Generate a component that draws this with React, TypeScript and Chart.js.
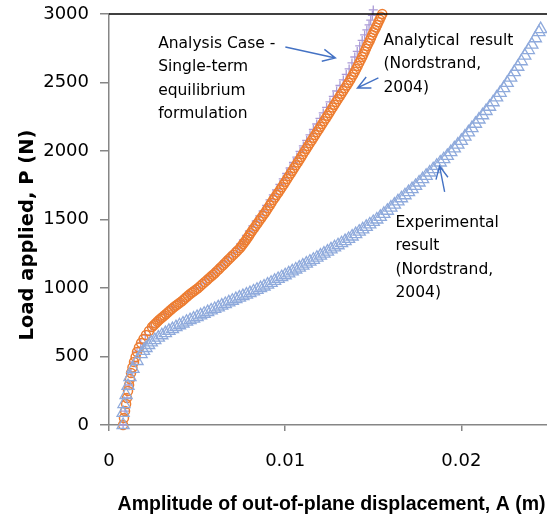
import { useEffect, useRef } from 'react';
import { Chart, registerables } from 'chart.js';

Chart.register(...registerables);

// ---------- data ----------
const X_MIN = 0;
const X_MAX = 0.0249;
const Y_MIN = 0;
const Y_MAX = 3000;
const X_TICKS = [0, 0.01, 0.02];
const X_TICK_LABELS = ['0', '0.01', '0.02'];
const Y_TICKS = [0, 500, 1000, 1500, 2000, 2500, 3000];
const Y_TICK_LABELS = ['0', '500', '1000', '1500', '2000', '2500', '3000'];

const X_TITLE = 'Amplitude of out-of-plane displacement, A (m)';
const Y_TITLE = 'Load applied, P (N)';

// Analysis Case - Single-term equilibrium formulation (purple crosses)
const ANALYSIS_A = [0.00080, 0.00091, 0.00102, 0.00114, 0.00125, 0.00142, 0.00159, 0.00180, 0.00206, 0.00239, 0.00278, 0.00317, 0.00362, 0.00407, 0.00451,
  0.00496, 0.00521, 0.00546, 0.00568, 0.00590, 0.006125, 0.00635, 0.00657, 0.00679, 0.007045, 0.00730, 0.007465, 0.00763, 0.0078, 0.00797, 0.008165,
  0.00836, 0.008555, 0.00875, 0.008945, 0.00914, 0.009325, 0.00951, 0.0097, 0.00989, 0.010085, 0.01028, 0.01047, 0.01066, 0.010845, 0.01103, 0.01122,
  0.01141, 0.0116, 0.01179, 0.011975, 0.01216, 0.01235, 0.01254, 0.01273, 0.01292, 0.01311, 0.01330, 0.013465, 0.01363, 0.01379, 0.01395, 0.01409,
  0.01423, 0.01437, 0.01451, 0.014635, 0.01476, 0.014855, 0.01495, 0.01500];
const ANALYSIS_P = [0, 102, 197, 292, 380, 460, 533, 599, 657, 715, 767, 810, 861, 905, 956,
  1000, 1030, 1059, 1085, 1110, 1139, 1168, 1197, 1226, 1259, 1292, 1322, 1351, 1384, 1416, 1453,
  1489, 1526, 1562, 1603, 1643, 1680, 1716, 1756, 1796, 1836, 1876, 1916, 1956, 1997, 2037, 2077,
  2117, 2157, 2197, 2238, 2278, 2318, 2358, 2398, 2438, 2478, 2519, 2559, 2599, 2643, 2686, 2727,
  2767, 2807, 2847, 2884, 2920, 2955, 2990, 3030];

// Analytical result (Nordstrand, 2004) (orange circles)
const ANALYTICAL_A = [0.00080, 0.00085, 0.00091, 0.00097, 0.00102, 0.00108, 0.00114, 0.00119, 0.00125, 0.00133, 0.00142, 0.00151, 0.00159, 0.00170, 0.00182,
  0.00196, 0.00210, 0.00227, 0.00244, 0.00254, 0.00264, 0.00274, 0.00284, 0.00294, 0.00304, 0.00314, 0.00324, 0.00335, 0.00346, 0.003575, 0.00369,
  0.003805, 0.00392, 0.004035, 0.00415, 0.00426, 0.00437, 0.004485, 0.00460, 0.004715, 0.00483, 0.004945, 0.00506, 0.005185, 0.00531, 0.00544, 0.00557,
  0.00568, 0.00579, 0.005905, 0.00602, 0.006135, 0.00625, 0.006365, 0.00648, 0.00659, 0.00670, 0.006815, 0.00693, 0.00706, 0.00719, 0.007315,
  0.00744, 0.007525, 0.00761, 0.007695, 0.00778, 0.007865, 0.00795, 0.008035, 0.00812, 0.00822, 0.00832, 0.00842, 0.00852, 0.00862, 0.00872, 0.00882,
  0.00892, 0.00902, 0.00912, 0.00922, 0.00932, 0.009415, 0.00951, 0.00961, 0.00971, 0.00981, 0.00991, 0.01001, 0.01011, 0.01021, 0.01031, 0.01041,
  0.01051, 0.01061, 0.01071, 0.01081, 0.01091, 0.011005, 0.01110, 0.0112, 0.01130, 0.0114, 0.01150, 0.0116, 0.01170, 0.0118, 0.01190, 0.012,
  0.01210, 0.0122, 0.01230, 0.0124, 0.01250, 0.012595, 0.01269, 0.01279, 0.01289, 0.01299, 0.01309, 0.01319, 0.01329, 0.01339, 0.01349, 0.01359,
  0.01369, 0.013775, 0.01386, 0.013945, 0.01403, 0.014115, 0.01420, 0.014285, 0.01437, 0.01444, 0.01451, 0.01458, 0.01465, 0.014725, 0.01480, 0.01487,
  0.01494, 0.01501, 0.01508, 0.01515, 0.01522, 0.01529, 0.01536, 0.015435, 0.01551];
const ANALYTICAL_P = [0, 51, 102, 153, 197, 248, 292, 336, 380, 420, 460, 496, 533, 566, 599,
  628, 657, 686, 715, 728, 741, 754, 767, 778, 788, 799, 810, 823, 836, 849, 861,
  872, 883, 894, 905, 918, 931, 944, 956, 967, 978, 989, 1000, 1015, 1029, 1044, 1059,
  1072, 1084, 1097, 1110, 1125, 1139, 1154, 1168, 1183, 1197, 1212, 1226, 1243, 1259, 1276,
  1292, 1306, 1321, 1336, 1351, 1367, 1383, 1400, 1416, 1434, 1453, 1471, 1489, 1507, 1526, 1544,
  1562, 1582, 1602, 1622, 1643, 1661, 1679, 1697, 1716, 1736, 1756, 1776, 1796, 1816, 1836, 1856,
  1876, 1896, 1916, 1936, 1956, 1976, 1997, 2017, 2037, 2057, 2077, 2097, 2117, 2137, 2157, 2177,
  2197, 2217, 2237, 2257, 2278, 2298, 2318, 2338, 2358, 2378, 2398, 2418, 2438, 2458, 2478, 2498,
  2519, 2539, 2559, 2579, 2599, 2621, 2643, 2665, 2686, 2706, 2727, 2747, 2767, 2787, 2807, 2827,
  2847, 2866, 2884, 2902, 2920, 2940, 2960, 2980, 3000];

// Experimental result (Nordstrand, 2004) (blue triangles)
const EXPERIMENTAL_A = [0.00080, 0.00080, 0.00085, 0.00097, 0.00108, 0.00119, 0.00136, 0.00159, 0.00182, 0.00196, 0.00210, 0.00225, 0.00240,
  0.0026, 0.0028, 0.0030, 0.0032, 0.0034, 0.0036, 0.0038, 0.0040, 0.0042, 0.0044, 0.0046, 0.0048, 0.0050, 0.0052, 0.0054, 0.0056, 0.0058, 0.0060,
  0.0062, 0.0064, 0.0066, 0.0068, 0.0070, 0.0072, 0.0074, 0.0076, 0.0078, 0.0080, 0.0082, 0.0084, 0.0086, 0.0088, 0.0090, 0.0092, 0.0094, 0.0096,
  0.0098, 0.0100, 0.0102, 0.0104, 0.0106, 0.0108, 0.0110, 0.0112, 0.0114, 0.0116, 0.0118, 0.0120, 0.0122, 0.0124, 0.0126, 0.0128, 0.0130, 0.0132,
  0.0134, 0.0136, 0.0138, 0.0140, 0.0142, 0.0144, 0.0146, 0.0148, 0.0150, 0.0152, 0.0154, 0.0156, 0.0158, 0.0160, 0.0162, 0.0164, 0.0166, 0.0168,
  0.0170, 0.0172, 0.0174, 0.0176, 0.0178, 0.0180, 0.0182, 0.0184, 0.0186, 0.0188, 0.0190, 0.0192, 0.0194, 0.0196, 0.0198, 0.0200, 0.0202, 0.0204,
  0.0206, 0.0208, 0.0210, 0.0212, 0.0214, 0.0216, 0.0218, 0.0220, 0.0222, 0.0224, 0.0226, 0.0228, 0.0230, 0.0232, 0.0234, 0.0236, 0.0238, 0.0240,
  0.0242, 0.0244, 0.0245];
const EXPERIMENTAL_P = [0, 88, 153, 219, 285, 350, 409, 467, 518, 541, 562, 584, 603,
  620, 638, 655, 671, 687, 700, 714, 728, 741, 754, 765, 777, 788, 800, 812, 824, 836, 847,
  859, 871, 883, 895, 907, 919, 930, 941, 952, 963, 975, 987, 999, 1011, 1025, 1038, 1052, 1066,
  1079, 1093, 1107, 1121, 1135, 1149, 1163, 1178, 1192, 1206, 1221, 1236, 1251, 1266, 1282, 1297, 1312, 1327,
  1342, 1358, 1376, 1393, 1411, 1428, 1446, 1464, 1482, 1500, 1519, 1541, 1564, 1587, 1609, 1632, 1655, 1677,
  1700, 1722, 1745, 1770, 1795, 1819, 1843, 1867, 1892, 1916, 1940, 1964, 1992, 2019, 2047, 2074, 2105, 2136,
  2167, 2199, 2230, 2261, 2292, 2323, 2356, 2391, 2425, 2459, 2497, 2536, 2576, 2615, 2655, 2696, 2737, 2777,
  2823, 2867, 2890];

// annotation labels (anchored in data coordinates: A, P of first baseline)
const NOTE_ANALYSIS = ['Analysis Case -', 'Single-term', 'equilibrium', 'formulation'];
const NOTE_ANALYTICAL = ['Analytical  result', '(Nordstrand,', '2004)'];
const NOTE_EXPERIMENTAL = ['Experimental', 'result', '(Nordstrand,', '2004)'];
const NOTE_ANCHORS = [
  { lines: NOTE_ANALYSIS, a: 0.00279, p: 2752 },
  { lines: NOTE_ANALYTICAL, a: 0.01558, p: 2774 },
  { lines: NOTE_EXPERIMENTAL, a: 0.01626, p: 1445 },
];
// arrows: tail (a1,p1) -> tip (a2,p2)
const ARROWS = [
  { a1: 0.01001, p1: 2759, a2: 0.01285, p2: 2679 },
  { a1: 0.01529, p1: 2533, a2: 0.01410, p2: 2460 },
  { a1: 0.01905, p1: 1701, a2: 0.01876, p2: 1890 },
];

// ---------- styles ----------
const BLUE = '#8FAADC';
const ORANGE = '#ED7D31';
const PURPLE = '#AA9AD6';
const AXIS = '#868686';
const ARROW = '#4472C4';
const TICK_FONT = 'DejaVu Sans';
const NOTE_FONT = '15.5px "DejaVu Sans"';
const CANVAS_W = 556;
const CANVAS_H = 516;

const toPoints = (xs: number[], ys: number[]) =>
  xs.slice(0, Math.min(xs.length, ys.length)).map((x, i) => ({ x, y: ys[i] }));

const overlay = {
  id: 'overlay',
  afterDraw(chart: any) {
    const { ctx, chartArea, scales } = chart;
    const xs = scales.x;
    const ys = scales.y;
    ctx.save();
    // top border
    ctx.strokeStyle = '#000';
    ctx.lineWidth = 1.5;
    ctx.beginPath();
    ctx.moveTo(chartArea.left, chartArea.top);
    ctx.lineTo(chartArea.right, chartArea.top);
    ctx.stroke();

    // notes
    ctx.fillStyle = '#000';
    ctx.font = NOTE_FONT;
    ctx.textAlign = 'left';
    ctx.textBaseline = 'alphabetic';
    NOTE_ANCHORS.forEach((n) => {
      const x = xs.getPixelForValue(n.a);
      const y = ys.getPixelForValue(n.p);
      n.lines.forEach((line, i) => ctx.fillText(line, x, y + i * 23.3));
    });

    // arrows
    ctx.strokeStyle = ARROW;
    ctx.lineWidth = 1.4;
    ARROWS.forEach((ar) => {
      const x1 = xs.getPixelForValue(ar.a1);
      const y1 = ys.getPixelForValue(ar.p1);
      const x2 = xs.getPixelForValue(ar.a2);
      const y2 = ys.getPixelForValue(ar.p2);
      const ang = Math.atan2(y2 - y1, x2 - x1);
      const head = 14;
      const spread = 0.45;
      ctx.beginPath();
      ctx.moveTo(x1, y1);
      ctx.lineTo(x2, y2);
      ctx.moveTo(x2 - head * Math.cos(ang - spread), y2 - head * Math.sin(ang - spread));
      ctx.lineTo(x2, y2);
      ctx.lineTo(x2 - head * Math.cos(ang + spread), y2 - head * Math.sin(ang + spread));
      ctx.stroke();
    });

    // axis titles
    ctx.fillStyle = '#000';
    ctx.font = 'bold 19.5px "Liberation Sans"';
    ctx.textAlign = 'center';
    ctx.fillText(X_TITLE, 331.5, 510);
    ctx.save();
    ctx.translate(33, 235);
    ctx.rotate(-Math.PI / 2);
    ctx.font = 'bold 19.5px "DejaVu Sans"';
    ctx.fillText(Y_TITLE, 0, 0);
    ctx.restore();
    ctx.restore();
  },
};

export default function App() {
  const ref = useRef<HTMLCanvasElement | null>(null);

  useEffect(() => {
    if (!ref.current) return;
    const chart = new Chart(ref.current, {
      type: 'scatter',
      data: {
        datasets: [
          {
            label: 'Experimental result (Nordstrand, 2004)',
            data: toPoints(EXPERIMENTAL_A, EXPERIMENTAL_P),
            pointStyle: 'triangle',
            pointRadius: 7,
            pointBorderColor: BLUE,
            pointBackgroundColor: 'rgba(0,0,0,0)',
            pointBorderWidth: 1.3,
            borderColor: BLUE,
            backgroundColor: 'rgba(0,0,0,0)',
            showLine: false,
            clip: false,
            order: 1,
          } as any,
          {
            label: 'Analytical result (Nordstrand, 2004)',
            data: toPoints(ANALYTICAL_A, ANALYTICAL_P),
            pointStyle: 'circle',
            pointRadius: 4.5,
            pointBorderColor: ORANGE,
            pointBackgroundColor: 'rgba(0,0,0,0)',
            pointBorderWidth: 1.5,
            borderColor: ORANGE,
            backgroundColor: 'rgba(0,0,0,0)',
            showLine: false,
            clip: false,
            order: 2,
          } as any,
          {
            label: 'Analysis Case - Single-term equilibrium formulation',
            data: toPoints(ANALYSIS_A, ANALYSIS_P),
            pointStyle: 'cross',
            pointRadius: 4.5,
            pointBorderColor: PURPLE,
            pointBackgroundColor: 'rgba(0,0,0,0)',
            pointBorderWidth: 1.3,
            borderColor: PURPLE,
            backgroundColor: 'rgba(0,0,0,0)',
            showLine: false,
            clip: false,
            order: 3,
          } as any,
        ],
      },
      options: {
        responsive: false,
        animation: false,
        events: [],
        layout: { padding: { top: 14, right: 0, left: 0, bottom: 0 } },
        plugins: {
          legend: { display: false },
          tooltip: { enabled: false },
          title: { display: false },
        },
        scales: {
          x: {
            type: 'linear',
            min: X_MIN,
            max: X_MAX,
            afterFit: (s: any) => {
              s.height = 91;
              s.paddingLeft = 0;
              s.paddingRight = 0;
            },
            afterBuildTicks: (s: any) => {
              s.ticks = X_TICKS.map((v) => ({ value: v }));
            },
            ticks: {
              callback: (v: any) => X_TICK_LABELS[X_TICKS.indexOf(Number(v))] ?? '',
              font: { family: TICK_FONT, size: 18 },
              color: '#000',
              padding: 20,
              maxRotation: 0,
              autoSkip: false,
            },
            grid: { drawOnChartArea: false, drawTicks: true, tickLength: 6, color: AXIS, lineWidth: 1.5 },
            border: { display: true, color: AXIS, width: 1.5 },
          },
          y: {
            type: 'linear',
            min: Y_MIN,
            max: Y_MAX,
            afterFit: (s: any) => {
              s.width = 109;
              s.paddingTop = 0;
              s.paddingBottom = 0;
            },
            afterBuildTicks: (s: any) => {
              s.ticks = Y_TICKS.map((v) => ({ value: v }));
            },
            ticks: {
              callback: (v: any) => Y_TICK_LABELS[Y_TICKS.indexOf(Number(v))] ?? '',
              font: { family: TICK_FONT, size: 18 },
              color: '#000',
              padding: 11,
              autoSkip: false,
            },
            grid: { drawOnChartArea: false, drawTicks: true, tickLength: 9, color: AXIS, lineWidth: 1.5 },
            border: { display: true, color: AXIS, width: 1.5 },
          },
        },
      } as any,
      plugins: [overlay],
    });
    return () => chart.destroy();
  }, []);

  return (
    <div style={{ position: 'fixed', left: 0, top: 0, width: 547, height: 516, overflow: 'hidden', background: '#fff' }}>
      <canvas ref={ref} width={CANVAS_W} height={CANVAS_H} style={{ width: CANVAS_W, height: CANVAS_H, display: 'block' }} />
    </div>
  );
}
